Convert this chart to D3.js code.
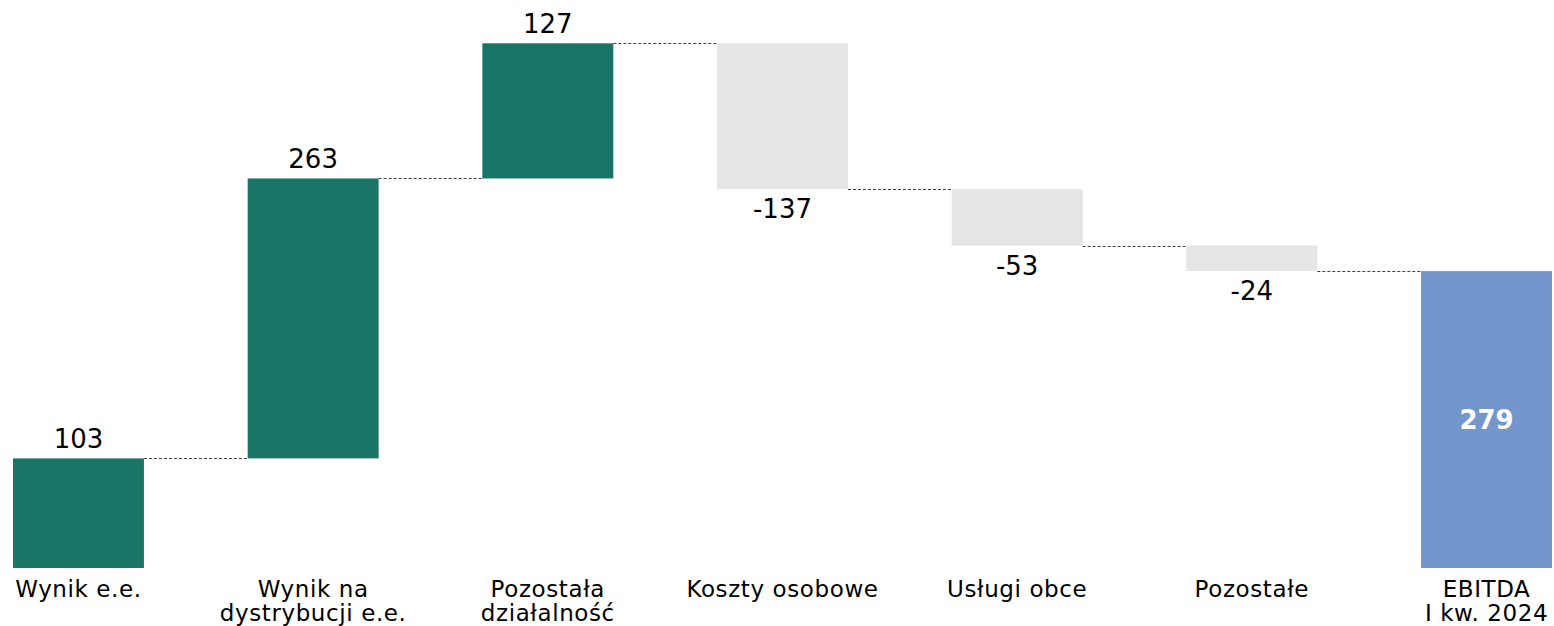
<!DOCTYPE html>
<html>
<head>
<meta charset="utf-8">
<script src="https://cdn.jsdelivr.net/npm/d3@7"></script>
<style>
  html, body { margin: 0; padding: 0; background: #fff; }
  svg { display: block; font-family: Verdana, "DejaVu Sans", sans-serif; }
</style>
</head>
<body>
<svg id="waterfall" width="1554" height="626"></svg>
<script>
// chart data
var categories = [
    ["Wynik e.e."],
    ["Wynik na", "dystrybucji e.e."],
    ["Pozostała", "działalność"],
    ["Koszty osobowe"],
    ["Usługi obce"],
    ["Pozostałe"],
    ["EBITDA", "I kw. 2024"]
];
var values = [103, 263, 127, -137, -53, -24, 279];
var isTotal = [false, false, false, false, false, false, true];

var svg = d3.select("svg#waterfall");

// build running totals
var running = 0;
var steps = values.map(function(v, i) {
    var start, end;
    if (isTotal[i]) { start = 0; end = v; running = v; }
    else { start = running; end = running + v; running = end; }
    return { i: i, value: v, start: start, end: end, total: isTotal[i] };
});

var x = d3.scaleBand()
    .domain(d3.range(values.length))
    .range([13, 1552])
    .paddingInner(0.442)
    .paddingOuter(0);

var y = d3.scaleLinear()
    .domain([0, d3.max(steps, function(d) { return Math.max(d.start, d.end); })])
    .range([568, 43.3]);

function color(d) {
    if (d.total) return "#7397cd";
    return d.value >= 0 ? "#1b7566" : "#e5e5e5";
}

var g = svg.append("g");

// connectors
g.selectAll("line.conn")
    .data(steps.slice(0, -1))
    .enter().append("line")
    .attr("class", "conn")
    .attr("x1", function(d) { return x(d.i) + x.bandwidth(); })
    .attr("x2", function(d) { return x(d.i + 1); })
    .attr("y1", function(d) { return Math.round(y(d.end)) + 0.5; })
    .attr("y2", function(d) { return Math.round(y(d.end)) + 0.5; })
    .attr("stroke", "#404040")
    .attr("stroke-width", 1)
    .attr("stroke-dasharray", "3,2");

// bars
g.selectAll("rect.bar")
    .data(steps)
    .enter().append("rect")
    .attr("class", "bar")
    .attr("x", function(d) { return x(d.i); })
    .attr("width", x.bandwidth())
    .attr("y", function(d) { return y(Math.max(d.start, d.end)); })
    .attr("height", function(d) { return Math.abs(y(d.start) - y(d.end)); })
    .attr("fill", color);

// value labels
g.selectAll("text.val")
    .data(steps)
    .enter().append("text")
    .attr("class", "val")
    .attr("x", function(d) { return x(d.i) + x.bandwidth() / 2; })
    .attr("y", function(d) {
        if (d.total) return (y(d.start) + y(d.end)) / 2 + 9;
        return d.value >= 0 ? y(d.end) - 10 : y(d.end) + 29;
    })
    .attr("text-anchor", "middle")
    .attr("font-size", 26)
    .attr("font-weight", function(d) { return d.total ? "bold" : "normal"; })
    .attr("fill", function(d) { return d.total ? "#fff" : "#000"; })
    .text(function(d) { return d.value; });

// category labels
var cat = g.selectAll("text.cat")
    .data(categories)
    .enter().append("text")
    .attr("class", "cat")
    .attr("text-anchor", "middle")
    .attr("font-size", 23)
    .attr("letter-spacing", 0.6)
    .attr("fill", "#000")
    .attr("x", function(d, i) { return x(i) + x.bandwidth() / 2; })
    .attr("y", 597);

cat.selectAll("tspan")
    .data(function(d) { return d; })
    .enter().append("tspan")
    .attr("x", function() { return d3.select(this.parentNode).attr("x"); })
    .attr("dy", function(d, j) { return j === 0 ? 0 : 24; })
    .text(function(d) { return d; });
</script>
</body>
</html>
